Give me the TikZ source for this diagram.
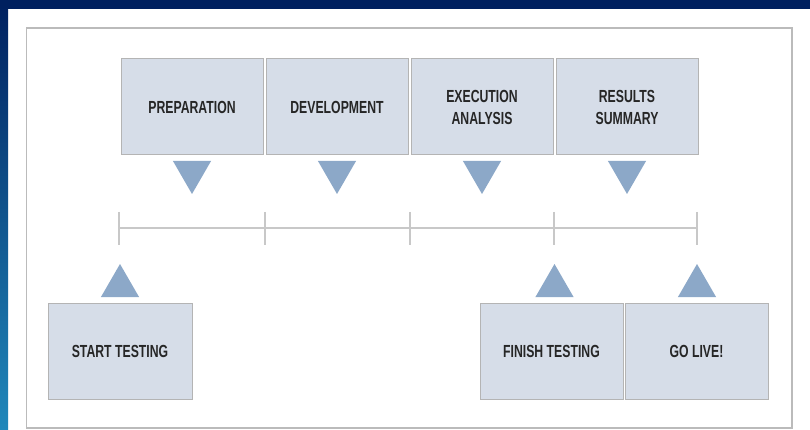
\documentclass[tikz,border=0pt]{standalone}
\usepackage{fontspec}
\newfontfamily\condfont[FakeStretch=0.70]{Liberation Sans}
\usetikzlibrary{shapes.geometric}
\definecolor{navy}{HTML}{00205F}
\definecolor{stripmid}{HTML}{00359C}
\definecolor{stripbot}{HTML}{2088BB}
\definecolor{panelline}{HTML}{BBBBBB}
\definecolor{boxfill}{HTML}{D6DDE8}
\definecolor{boxline}{HTML}{B4B4B4}
\definecolor{markblue}{HTML}{8CA8C8}
\definecolor{tlgray}{HTML}{C8C8C8}
\definecolor{textgray}{HTML}{262626}

\begin{document}
\begin{tikzpicture}[x=1pt,y=-1pt,
  phase/.style={draw=boxline, fill=boxfill, line width=1pt, minimum width=142pt,
    minimum height=96pt, inner sep=0pt, align=center, text=textgray,
    font=\condfont\bfseries\fontsize{17.5}{22}\selectfont},
  marker/.style={regular polygon, regular polygon sides=3, fill=markblue,
    minimum size=44pt, inner sep=0pt, outer sep=0pt},
  flip/.style={shape border rotate=180},
  tl/.style={draw=tlgray, line width=1.2pt}]
  \useasboundingbox (0,0) rectangle (810,430);
  % frame
  \fill[white] (0,0) rectangle (810,430);
  \shade[top color=navy, middle color=stripmid, bottom color=stripbot] (0,0) rectangle (8,430);
  \fill[navy] (0,0) rectangle (810,9);
  \draw[panelline, line width=1.5pt, fill=white] (26.5,28) rectangle (792,428);

  % phases
  \node[phase] (prep) at (192,107) {PREPARATION};
  \node[phase] (dev) at (337,107) {DEVELOPMENT};
  \node[phase] (exec) at (482,107) {EXECUTION\\ANALYSIS};
  \node[phase] (res) at (627,107) {RESULTS\\SUMMARY};
  \node[marker, flip] (mprep) at (192,172) {};
  \node[marker, flip] (mdev) at (337,172) {};
  \node[marker, flip] (mexec) at (482,172) {};
  \node[marker, flip] (mres) at (627,172) {};

  % timeline
  \foreach \x [count=\i from 0] in {119,265,410,554,697}
    \coordinate (t\i) at (\x,228);
  \draw[tl] (t0) -- (t4);
  \foreach \i in {0,...,4}
    \draw[tl] ([yshift=16pt]t\i) -- ([yshift=-17pt]t\i);

  % milestones
  \node[phase, minimum width=144pt] (start) at (120,351.5) {START TESTING};
  \node[phase, minimum width=143pt] (finish) at (551.5,351.5) {FINISH TESTING};
  \node[phase, minimum width=143pt] (golive) at (696.5,351.5) {GO LIVE!};
  \node[marker] (mstart) at (120,286) {};
  \node[marker] (mfinish) at (554.5,286) {};
  \node[marker] (mgolive) at (697,286) {};
\end{tikzpicture}
\end{document}
